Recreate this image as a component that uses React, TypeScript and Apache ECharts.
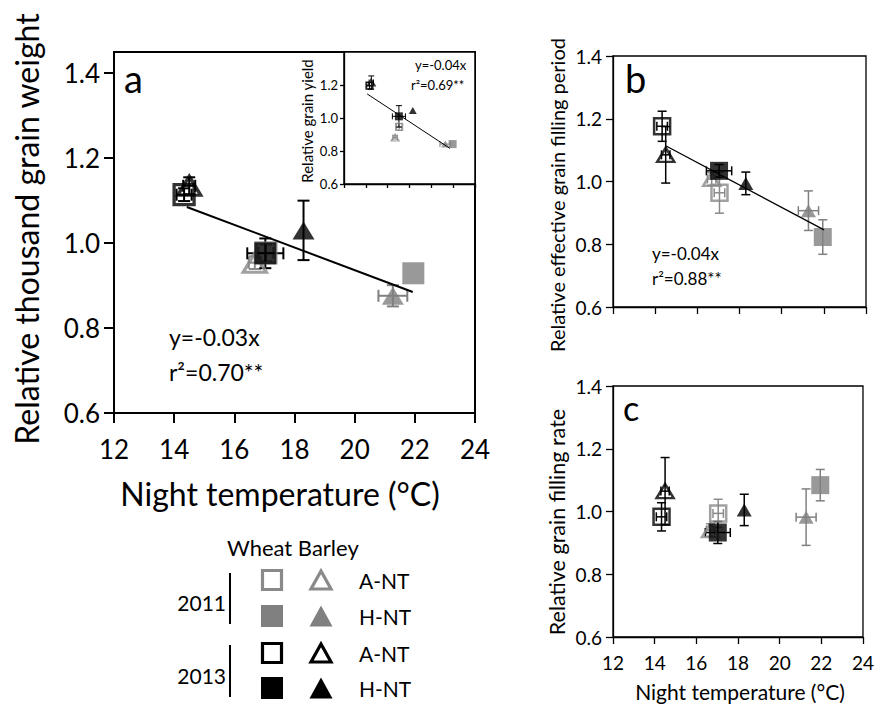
import React, { useEffect, useRef } from 'react';
import * as echarts from 'echarts';

const FONT = 'Lato, "Open Sans", sans-serif';

// ---- data ----
const groupNames = [
  'Wheat 2011 A-NT', 'Wheat 2011 H-NT', 'Barley 2011 A-NT', 'Barley 2011 H-NT',
  'Wheat 2013 A-NT', 'Wheat 2013 H-NT', 'Barley 2013 A-NT', 'Barley 2013 H-NT',
];
const nightTemp = [17.05, 21.95, 16.68, 21.27, 14.33, 17.03, 14.5, 18.3];
const nightTempErr = [0.25, 0, 0.2, 0.48, 0.25, 0.6, 0.2, 0];

const thousandGrainWeight = [0.977, 0.929, 0.954, 0.876, 1.114, 0.976, 1.135, 1.03];
const thousandGrainWeightErr = [0.02, 0, 0.015, 0.025, 0.015, 0.035, 0.02, 0.07];

const grainYield = [0.946, 0.842, 0.882, 0.842, 1.196, 1.01, 1.215, 1.046];
const grainYieldErr = [0.02, 0, 0.01, 0, 0.02, 0.065, 0.04, 0];

const fillingPeriod = [0.964, 0.823, 1.008, 0.907, 1.176, 1.034, 1.085, 0.994];
const fillingPeriodErr = [0.065, 0.055, 0.02, 0.063, 0.048, 0.02, 0.09, 0.036];

const fillingRate = [0.994, 1.084, 0.941, 0.982, 0.983, 0.933, 1.065, 1.005];
const fillingRateErr = [0.045, 0.05, 0.02, 0.09, 0.045, 0.035, 0.107, 0.05];

const fitA = [[14.42, 1.085], [21.93, 0.885]];
const fitInset = [[14.12, 1.146], [21.7, 0.816]];
const fitB = [[14.52, 1.113], [22.01, 0.846]];

const xTicks = [12, 14, 16, 18, 20, 22, 24];
const yTicks = [0.6, 0.8, 1.0, 1.2, 1.4];
const insetYTicks = [0.6, 0.8, 1.0, 1.2];

// ---- styles ----
const GREY = '#808080';
const GREY_OPEN = '#8a8a8a';
const groupShape = ['rect', 'rect', 'triangle', 'triangle', 'rect', 'rect', 'triangle', 'triangle'];
const groupOpen = [true, false, true, false, true, false, true, false];
const groupColor = [GREY_OPEN, GREY, GREY_OPEN, GREY, '#000', '#000', '#000', '#000'];

const sizeA = { rect: { open: 20, filled: 22 }, triangle: { open: [23, 19], filled: [22, 18] }, bw: 3.3 };
const sizeInset = { rect: { open: 7, filled: 8 }, triangle: { open: [8, 7], filled: [8, 7] }, bw: 1.2 };
const sizeBC = { rect: { open: 16, filled: 18 }, triangle: { open: [17, 14], filled: [15, 13] }, bw: 2.5 };

function makeScatter(gi: number, values: number[], sz: any) {
  return {
    type: 'scatter', xAxisIndex: gi, yAxisIndex: gi, z: 3, silent: true,
    data: values.map((v, i) => ({
      name: groupNames[i],
      value: [nightTemp[i], v],
      symbol: groupShape[i],
      symbolSize: sz[groupShape[i]][groupOpen[i] ? 'open' : 'filled'],
      itemStyle: groupOpen[i]
        ? { color: 'rgba(255,255,255,0)', borderColor: groupColor[i], borderWidth: sz.bw }
        : { color: groupColor[i], borderWidth: 0 },
    })),
  };
}

function makeErr(gi: number, values: number[], errs: number[], cap: number, lw: number) {
  return {
    type: 'custom', xAxisIndex: gi, yAxisIndex: gi, z: 2, silent: true,
    data: values.map((v, i) => [nightTemp[i], v, nightTempErr[i], errs[i], i]),
    renderItem: (params: any, api: any) => {
      const t = api.value(0), v = api.value(1), et = api.value(2), ev = api.value(3), i = api.value(4);
      const style = { stroke: groupColor[i], lineWidth: lw, fill: 'none' };
      const c: any[] = [];
      const seg = (x1: number, y1: number, x2: number, y2: number) =>
        c.push({ type: 'line', shape: { x1, y1, x2, y2 }, style });
      if (ev > 0) {
        const top = api.coord([t, v + ev]);
        const bot = api.coord([t, v - ev]);
        seg(top[0], top[1], bot[0], bot[1]);
        seg(top[0] - cap, top[1], top[0] + cap, top[1]);
        seg(bot[0] - cap, bot[1], bot[0] + cap, bot[1]);
      }
      if (et > 0) {
        const l = api.coord([t - et, v]);
        const r = api.coord([t + et, v]);
        seg(l[0], l[1], r[0], r[1]);
        seg(l[0], l[1] - cap, l[0], l[1] + cap);
        seg(r[0], r[1] - cap, r[0], r[1] + cap);
      }
      return { type: 'group', children: c };
    },
  };
}

function makeFit(gi: number, pts: number[][], w: number) {
  return {
    type: 'line', xAxisIndex: gi, yAxisIndex: gi, z: 4, silent: true,
    data: pts, showSymbol: false, symbol: 'none',
    lineStyle: { color: '#000', width: w },
  };
}

function xAxisFor(gi: number, show: boolean, fs: number, tickLen: number, lw: number, margin: number) {
  return {
    type: 'value', gridIndex: gi, min: 12, max: 24, interval: 2,
    axisLine: { show: true, onZero: false, lineStyle: { color: '#000', width: lw } },
    axisTick: { show: true, length: tickLen, customValues: xTicks, lineStyle: { color: '#000', width: lw } },
    axisLabel: { show: show, fontSize: fs, fontFamily: FONT, color: '#000', margin, customValues: xTicks },
    splitLine: { show: false },
  };
}

function yAxisFor(gi: number, max: number, ticks: number[], fs: number, tickLen: number, lw: number, margin: number) {
  return {
    type: 'value', gridIndex: gi, min: 0.6, max, interval: 0.2,
    axisLine: { show: true, onZero: false, lineStyle: { color: '#000', width: lw } },
    axisTick: { show: true, length: tickLen, customValues: ticks, lineStyle: { color: '#000', width: lw } },
    axisLabel: {
      show: true, fontSize: fs, fontFamily: FONT, color: '#000', margin, customValues: ticks,
      formatter: (val: number) => (ticks.some((t) => Math.abs(t - val) < 1e-6) ? val.toFixed(1) : ''),
    },
    splitLine: { show: false },
  };
}

function txt(text: string, x: number, y: number, fs: number, align = 'left', rotation = 0, color = '#000') {
  return {
    type: 'text', x, y, rotation, silent: true, z: 10,
    style: {
      text, fill: color, fontSize: fs, fontFamily: FONT,
      textAlign: align, align, textVerticalAlign: 'middle', verticalAlign: 'middle',
    },
  };
}

function legendSquare(cx: number, cy: number, open: boolean, color: string) {
  const s = open ? 19 : 22;
  return {
    type: 'rect', silent: true, z: 10,
    shape: { x: cx - s / 2, y: cy - s / 2, width: s, height: s },
    style: open ? { fill: 'none', stroke: color, lineWidth: 3.2 } : { fill: color },
  };
}

function legendTri(cx: number, cy: number, open: boolean, color: string) {
  const w = open ? 20 : 23, h = open ? 18 : 21;
  return {
    type: 'polygon', silent: true, z: 10,
    shape: { points: [[cx, cy - h / 2], [cx + w / 2, cy + h / 2], [cx - w / 2, cy + h / 2]] },
    style: open ? { fill: 'none', stroke: color, lineWidth: 3.2, lineJoin: 'miter' } : { fill: color },
  };
}

const option: any = {
  animation: false,
  backgroundColor: '#fff',
  grid: [
    { left: 114, top: 52, width: 361, height: 361, show: true, borderColor: '#000', borderWidth: 2, backgroundColor: 'transparent' },
    { left: 344, top: 52, width: 131, height: 132, show: true, borderColor: '#000', borderWidth: 1.5, backgroundColor: '#fff', z: 5 },
    { left: 613, top: 56, width: 253, height: 251, show: true, borderColor: '#000', borderWidth: 1.3, backgroundColor: 'transparent' },
    { left: 613, top: 386, width: 253, height: 251, show: true, borderColor: '#000', borderWidth: 1.3, backgroundColor: 'transparent' },
  ],
  xAxis: [
    xAxisFor(0, true, 26, 10, 2, 23),
    { ...xAxisFor(1, false, 12, 4, 1.3, 4), z: 6 },
    xAxisFor(2, false, 19, 7, 1.3, 10),
    xAxisFor(3, true, 19, 7, 1.3, 16),
  ],
  yAxis: [
    yAxisFor(0, 1.45, yTicks, 26, 10, 2, 14),
    { ...yAxisFor(1, 1.4, insetYTicks, 13, 4, 1.3, 6), z: 6 },
    yAxisFor(2, 1.4, yTicks, 19, 7, 1.3, 11),
    yAxisFor(3, 1.4, yTicks, 19, 7, 1.3, 11),
  ],
  series: [
    makeErr(0, thousandGrainWeight, thousandGrainWeightErr, 6, 2),
    makeScatter(0, thousandGrainWeight, sizeA),
    makeFit(0, fitA, 2),
    { ...makeErr(1, grainYield, grainYieldErr, 3, 1), z: 7 },
    { ...makeScatter(1, grainYield, sizeInset), z: 8 },
    { ...makeFit(1, fitInset, 1), z: 9 },
    makeErr(2, fillingPeriod, fillingPeriodErr, 4.5, 1.5),
    makeScatter(2, fillingPeriod, sizeBC),
    makeFit(2, fitB, 1.3),
    makeErr(3, fillingRate, fillingRateErr, 4.5, 1.5),
    makeScatter(3, fillingRate, sizeBC),
  ],
  graphic: [
    // panel letters
    txt('a', 124, 78, 38),
    txt('b', 625, 78, 38),
    txt('c', 623, 407, 34),
    // axis titles
    txt('Relative thousand grain weight', 26, 229, 32, 'center', Math.PI / 2),
    txt('Night temperature (°C)', 280, 493, 32, 'center'),
    txt('Relative grain yield', 307, 121, 15, 'center', Math.PI / 2),
    txt('Relative effective grain filling period', 557, 195, 20, 'center', Math.PI / 2),
    txt('Relative grain filling rate', 557, 522, 21.5, 'center', Math.PI / 2),
    txt('Night temperature (°C)', 740, 691, 21, 'center'),
    // equations
    txt('y=-0.03x', 169, 337, 23),
    txt('r²=0.70**', 169, 372, 23),
    txt('y=-0.04x', 415, 65, 13),
    txt('r²=0.69**', 411, 85, 13),
    txt('y=-0.04x', 652, 253, 17),
    txt('r²=0.88**', 652, 278, 17),
    // legend
    txt('Wheat Barley', 227, 547, 22),
    txt('2011', 226, 602, 21, 'right'),
    txt('2013', 226, 675, 21, 'right'),
    { type: 'line', silent: true, shape: { x1: 230, y1: 573, x2: 230, y2: 624 }, style: { stroke: '#000', lineWidth: 2 } },
    { type: 'line', silent: true, shape: { x1: 230, y1: 645, x2: 230, y2: 697 }, style: { stroke: '#000', lineWidth: 2 } },
    legendSquare(272, 580, true, GREY_OPEN),
    legendTri(321, 580, true, GREY_OPEN),
    legendSquare(272, 616, false, GREY),
    legendTri(321, 616, false, GREY),
    legendSquare(272, 653, true, '#000'),
    legendTri(321, 653, true, '#000'),
    legendSquare(272, 688, false, '#000'),
    legendTri(321, 688, false, '#000'),
    txt('A-NT', 359, 580, 21),
    txt('H-NT', 359, 616, 21),
    txt('A-NT', 359, 653, 21),
    txt('H-NT', 359, 688, 21),
  ],
};

export default function App() {
  const ref = useRef<HTMLDivElement>(null);
  useEffect(() => {
    const chart = echarts.init(ref.current!, null, { renderer: 'svg' });
    chart.setOption(option);
    return () => chart.dispose();
  }, []);
  return (
    <div
      ref={ref}
      style={{ position: 'absolute', left: 0, top: 0, width: 877, height: 704, background: '#fff' }}
    />
  );
}
